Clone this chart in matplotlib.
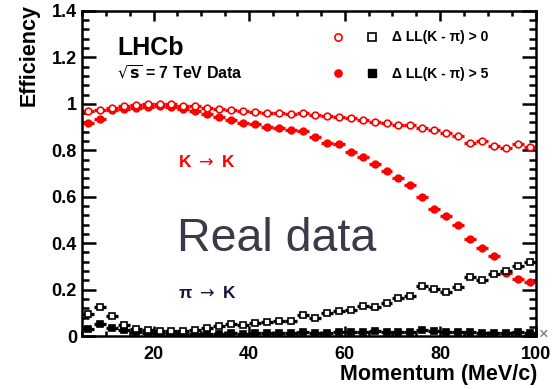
import matplotlib
matplotlib.use("Agg")
import matplotlib.pyplot as plt
from matplotlib.lines import Line2D
from matplotlib.legend_handler import HandlerTuple
from matplotlib.ticker import MultipleLocator

plt.rcParams["font.family"] = ["Liberation Sans", "DejaVu Sans"]

# momentum bin centres (MeV/c), 2.5 wide bins from 5 to 100
momentum = [6.25, 8.75, 11.25, 13.75, 16.25, 18.75, 21.25, 23.75, 26.25, 28.75,
            31.25, 33.75, 36.25, 38.75, 41.25, 43.75, 46.25, 48.75, 51.25, 53.75,
            56.25, 58.75, 61.25, 63.75, 66.25, 68.75, 71.25, 73.75, 76.25, 78.75,
            81.25, 83.75, 86.25, 88.75, 91.25, 93.75, 96.25, 98.75]
half_bin = 1.25

# K -> K efficiency
kk_dll0 = [0.968, 0.972, 0.984, 0.989, 0.994, 1.000, 1.001, 1.000, 0.992, 0.989,
           0.984, 0.979, 0.973, 0.969, 0.965, 0.962, 0.960, 0.956, 0.962, 0.953,
           0.949, 0.945, 0.940, 0.931, 0.923, 0.918, 0.908, 0.908, 0.898, 0.886,
           0.875, 0.863, 0.830, 0.840, 0.820, 0.811, 0.826, 0.815]
kk_dll5 = [0.919, 0.933, 0.972, 0.978, 0.983, 0.987, 0.990, 0.985, 0.978, 0.970,
           0.955, 0.943, 0.929, 0.919, 0.911, 0.902, 0.896, 0.886, 0.882, 0.858,
           0.832, 0.825, 0.792, 0.772, 0.742, 0.710, 0.679, 0.649, 0.597, 0.547,
           0.517, 0.477, 0.417, 0.379, 0.343, 0.271, 0.245, 0.231]

# pi -> K misidentification
pik_dll0 = [0.097, 0.125, 0.088, 0.049, 0.032, 0.026, 0.022, 0.021, 0.023, 0.028,
            0.035, 0.045, 0.050, 0.048, 0.058, 0.060, 0.063, 0.066, 0.092, 0.078,
            0.100, 0.106, 0.114, 0.131, 0.125, 0.142, 0.164, 0.174, 0.214, 0.203,
            0.188, 0.211, 0.254, 0.240, 0.267, 0.281, 0.300, 0.321]
pik_dll5 = [0.031, 0.054, 0.035, 0.025, 0.016, 0.012, 0.010, 0.009, 0.009, 0.010,
            0.010, 0.011, 0.012, 0.010, 0.012, 0.013, 0.014, 0.015, 0.016, 0.014,
            0.015, 0.018, 0.016, 0.017, 0.020, 0.016, 0.018, 0.019, 0.026, 0.024,
            0.017, 0.016, 0.017, 0.015, 0.013, 0.012, 0.016, 0.014]

RED = "#ff0000"
BLACK = "#000000"

fig = plt.figure(figsize=(5.53, 3.89), dpi=100)
ax = fig.add_axes([0.148, 0.136, 0.821, 0.836])

def draw(y, color, marker, filled):
    ax.errorbar(momentum, y, xerr=half_bin, yerr=0.005, fmt="none",
                ecolor=color, elinewidth=2.4, capsize=0, zorder=2)
    ax.plot(momentum, y, linestyle="none", marker=marker, ms=4.8,
            mec=color, mew=1.2, mfc=color if filled else "white", zorder=3)

draw(kk_dll5, RED, "o", True)
draw(kk_dll0, RED, "o", False)
draw(pik_dll5, BLACK, "s", True)
draw(pik_dll0, BLACK, "s", False)

ax.set_xlim(5, 100)
ax.set_ylim(0, 1.4)
ax.xaxis.set_major_locator(MultipleLocator(20))
ax.xaxis.set_minor_locator(MultipleLocator(5))
ax.yaxis.set_major_locator(MultipleLocator(0.2))
ax.yaxis.set_minor_locator(MultipleLocator(0.04))
ax.set_yticks([0, 0.2, 0.4, 0.6, 0.8, 1.0, 1.2, 1.4])
ax.set_yticklabels(["0", "0.2", "0.4", "0.6", "0.8", "1", "1.2", "1.4"])
ax.set_xticks([20, 40, 60, 80, 100])

for s in ax.spines.values():
    s.set_linewidth(1.8)
ax.tick_params(axis="both", which="both", direction="in", top=True, right=True,
               width=1.8, labelsize=13)
ax.tick_params(axis="y", which="major", length=10, pad=3.5)
ax.tick_params(axis="y", which="minor", length=5)
ax.tick_params(axis="x", which="major", length=7, pad=7)
ax.tick_params(axis="x", which="minor", length=3.5)
for lab in ax.get_xticklabels() + ax.get_yticklabels():
    lab.set_fontweight("bold")

ax.set_ylabel("Efficiency", fontsize=15.5, fontweight="bold", loc="top")
ax.yaxis.set_label_coords(-0.094, 1.02)
ax.set_xlabel("Momentum (MeV/c)", fontsize=15.5, fontweight="bold", loc="right",
              va="top")
ax.xaxis.set_label_coords(1.003, -0.085)

ax.text(12.5, 1.208, "LHCb", fontsize=18, fontweight="bold")
ax.text(12.4, 1.11, r"$\sqrt{\mathbf{s}}$ = 7 TeV Data", fontsize=11.5,
        fontweight="bold")
ax.text(25.1, 0.727, r"K $\rightarrow$ K", fontsize=12.5, fontweight="bold",
        color=RED)
ax.text(25.1, 0.165, "\u03c0 $\\rightarrow$ K", fontsize=12.5,
        fontweight="bold", color="#14143c")
ax.text(24.9, 0.367, "Real data", fontsize=33.5, color="#3a3a48")

# legend: circle and square side by side for each selection cut
ro = Line2D([], [], ls="none", marker="o", ms=5.2, mec=RED, mfc="white", mew=1.2)
ko = Line2D([], [], ls="none", marker="s", ms=5.2, mec=BLACK, mfc="white", mew=1.2)
rf = Line2D([], [], ls="none", marker="o", ms=5.2, mec=RED, mfc=RED)
kf = Line2D([], [], ls="none", marker="s", ms=5.2, mec=BLACK, mfc=BLACK)
leg = ax.legend([(ro, ko), (rf, kf)],
                ["\u0394 LL(K - \u03c0) > 0", "\u0394 LL(K - \u03c0) > 5"],
                handler_map={tuple: HandlerTuple(ndivide=None, pad=1.5)},
                handlelength=3.5, handletextpad=0.95, labelspacing=1.6,
                loc="upper left", bbox_to_anchor=(0.548, 0.94),
                borderpad=0, borderaxespad=0, frameon=False,
                prop={"size": 10, "weight": "bold"})

fig.text(539 / 553, 1 - 334 / 389, "\u00d7", fontsize=12, color="#5a6a8a",
         va="center")

fig.savefig("out.png", dpi=100)
